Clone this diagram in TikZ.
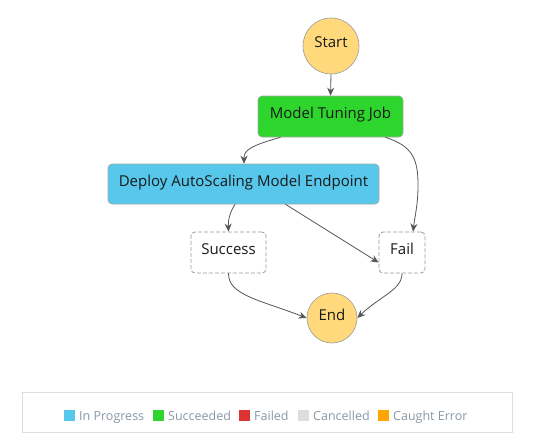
\documentclass[tikz,border=0pt]{standalone}
\usepackage{fontspec}
\setmainfont{Open Sans}
\usetikzlibrary{arrows.meta}
\definecolor{stateyellow}{HTML}{FFD97B}
\definecolor{stategreen}{HTML}{2DD52D}
\definecolor{stateblue}{HTML}{57C8EC}
\definecolor{edgegray}{HTML}{555555}
\definecolor{legendtext}{HTML}{8A97A3}
\definecolor{legendred}{HTML}{DD3333}
\definecolor{legendgray}{HTML}{DDDDDD}
\definecolor{legendorange}{HTML}{FFA500}
\tikzset{
  lbl/.style={font=\fontsize{15}{17}\selectfont, text=black!90, text height=10pt, text depth=6pt},
  circ/.style={circle, draw=black!40, fill=stateyellow, line width=0.6pt, inner sep=0pt, lbl},
  task/.style={rectangle, rounded corners=4pt, draw=black!35, line width=0.6pt, inner sep=0pt, lbl},
  term/.style={rectangle, rounded corners=4pt, draw=black!40, dashed, dash pattern=on 4pt off 2pt, line width=0.8pt, fill=white, inner sep=0pt, lbl},
  edge/.style={draw=edgegray, line width=0.8pt, -{Stealth[length=8pt,width=7pt]}},
  sq/.style={rectangle, inner sep=0pt, minimum width=11pt, minimum height=11pt},
  ltext/.style={anchor=base west, inner sep=0pt, text=legendtext, font=\fontsize{12.5}{14}\selectfont}
}
\begin{document}
\begin{tikzpicture}[x=1pt,y=-1pt]
\useasboundingbox (0,0) rectangle (534,441);
\node[circ, minimum size=56pt] (start) at (331,46) {Start};
\node[task, fill=stategreen, minimum width=145pt, minimum height=41pt] (tune) at (330.5,116.5) {Model Tuning Job};
\node[task, fill=stateblue, minimum width=271pt, minimum height=40pt] (deploy) at (243.5,184) {Deploy AutoScaling Model Endpoint};
\node[term, minimum width=75pt, minimum height=41pt] (success) at (228.5,252.5) {Success};
\node[term, minimum width=46pt, minimum height=41pt] (fail) at (402,252.5) {Fail};
\node[circ, minimum size=50pt] (end) at (332,318) {End};

\draw[edge] (start.south) -- (tune.north);
\draw[edge] ([xshift=-50pt]tune.south) .. controls (250,146) and (244,150) .. ([xshift=0.5pt]deploy.north);
\draw[edge] ([xshift=55pt]tune.south) .. controls (412,146) and (418,158) .. (418,185) .. controls (418,205) and (415,215) .. ([xshift=11pt]fail.north);
\draw[edge] ([xshift=-8.5pt]deploy.south) .. controls (230,212) and (228,220) .. (success.north);
\draw[edge] ([xshift=42pt]deploy.south) -- ([yshift=-10pt]fail.west);
\draw[edge] (success.south) .. controls (228,295) and (260,300) .. (end.west);
\draw[edge] (fail.south) .. controls (402,290) and (380,296) .. (end.east);

\node[draw=legendgray, line width=0.8pt, minimum width=490pt, minimum height=40pt, inner sep=0pt] (legend) at (267,412) {};
\node[sq, fill=stateblue] (s1) at (69.5,415.5) {};
\node[ltext] (t1) at (79,420.5) {In Progress};
\node[sq, fill=stategreen] (s2) at (158.5,415.5) {};
\node[ltext] (t2) at (168,420.5) {Succeeded};
\node[sq, fill=legendred] (s3) at (244.5,415.5) {};
\node[ltext] (t3) at (254,420.5) {Failed};
\node[sq, fill=legendgray] (s4) at (303.5,415.5) {};
\node[ltext] (t4) at (313,420.5) {Cancelled};
\node[sq, fill=legendorange] (s5) at (383.5,415.5) {};
\node[ltext] (t5) at (393,420.5) {Caught Error};
\end{tikzpicture}
\end{document}
